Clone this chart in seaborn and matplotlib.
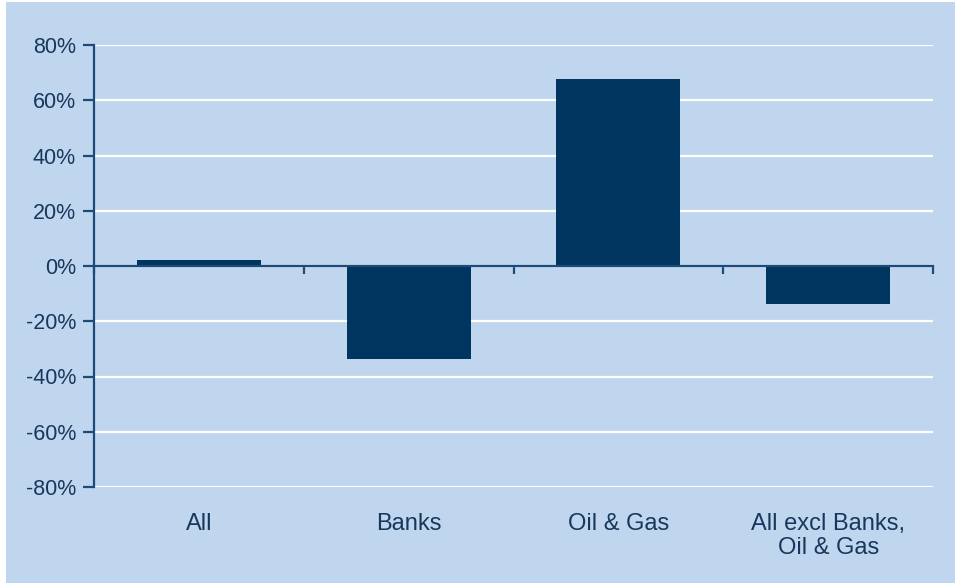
import pandas as pd
import matplotlib
matplotlib.use('Agg')
import matplotlib.pyplot as plt
from matplotlib.patches import Rectangle
from matplotlib.ticker import PercentFormatter
import seaborn as sns

# data
categories = ['All', 'Banks', 'Oil & Gas', 'All excl Banks,\nOil & Gas']
changes = [0.022, -0.335, 0.677, -0.136]
yticks = [-0.8, -0.6, -0.4, -0.2, 0.0, 0.2, 0.4, 0.6, 0.8]

df = pd.DataFrame({'sector': categories, 'change': changes})

bg = '#c0d6ee'
navy = '#003560'
axis_col = '#1d4a78'
text_col = '#17375c'

sns.set_style('white')
plt.rcParams['font.family'] = ['Liberation Sans', 'DejaVu Sans']
plt.rcParams['axes.unicode_minus'] = False

fig = plt.figure(figsize=(9.55, 5.83), dpi=100, facecolor='white')
# blue panel behind the chart (thin white margin at top/left like the reference)
fig.add_artist(Rectangle((6 / 955, 0), 1 - 6 / 955, 1 - 2 / 583,
                         transform=fig.transFigure, facecolor=bg,
                         edgecolor='none', zorder=-10))
ax = fig.add_axes([94 / 955, 1 - 487 / 583, (933 - 94) / 955, (487 - 45) / 583])
ax.set_facecolor(bg)

sns.barplot(data=df, x='sector', y='change', color=navy, width=0.59,
            saturation=1, linewidth=0, ax=ax, zorder=3)

ax.set_xlim(-0.5, 3.5)
ax.set_ylim(-0.8, 0.8)
ax.set_yticks(yticks)
ax.yaxis.set_major_formatter(PercentFormatter(1.0, decimals=0))
ax.grid(axis='y', color='white', linewidth=1.6, zorder=0)
ax.set_axisbelow(True)
ax.set_xlabel(None)
ax.set_ylabel(None)

for s in ['top', 'right']:
    ax.spines[s].set_visible(False)
ax.spines['left'].set_color(axis_col)
ax.spines['left'].set_linewidth(1.6)
ax.spines['bottom'].set_position(('data', 0))
ax.spines['bottom'].set_color(axis_col)
ax.spines['bottom'].set_linewidth(1.6)
ax.spines['bottom'].set_zorder(4)

ax.tick_params(axis='y', left=True, length=8, width=1.6, color=axis_col,
               pad=5, labelsize=15.5, labelcolor=text_col)
# category boundary ticks on the zero line
ax.set_xticks([i - 0.5 for i in range(len(categories) + 1)], minor=True)
ax.set_xticks(range(len(categories)))
ax.set_xticklabels([])
ax.tick_params(axis='x', which='major', bottom=False, length=0)
ax.tick_params(axis='x', which='minor', bottom=True, length=6, width=1.6,
               color=axis_col, direction='out')

# category labels under the plot area
sec = ax.secondary_xaxis(0)
sec.set_xticks(range(len(categories)), labels=categories)
sec.tick_params(length=0, pad=19, labelsize=17, labelcolor=text_col)
for lab in sec.get_xticklabels():
    lab.set_linespacing(1.1)
    lab.set_multialignment('center')
sec.spines['bottom'].set_visible(False)

plt.savefig('out.png', dpi=100, facecolor='white')
